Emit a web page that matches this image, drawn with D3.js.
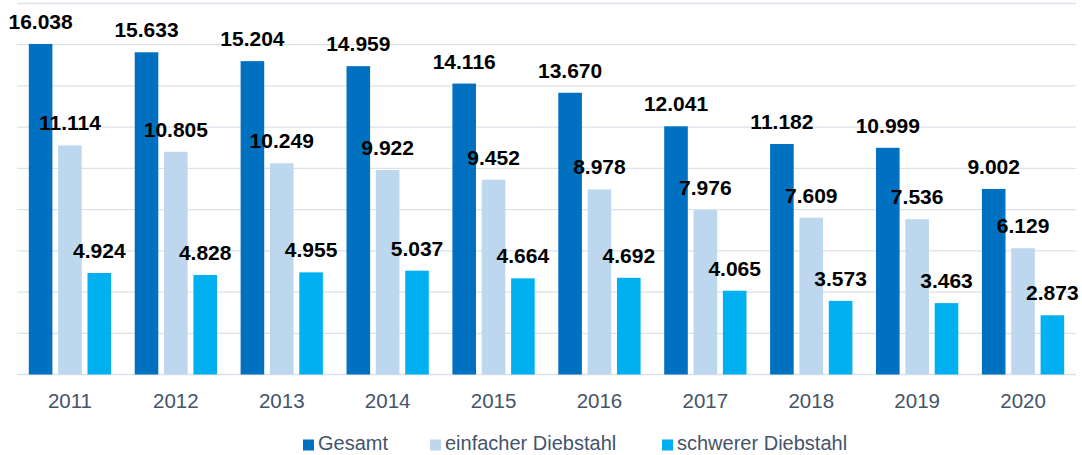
<!DOCTYPE html>
<html>
<head>
<meta charset="utf-8">
<script src="https://cdn.jsdelivr.net/npm/d3@7"></script>
<style>
  body { margin: 0; background: #fff; }
  svg { display: block; font-family: "Liberation Sans", Arial, sans-serif; }
</style>
</head>
<body>
<div id="chart"></div>
<script>
// data (thousands)
var years = ["2011", "2012", "2013", "2014", "2015", "2016", "2017", "2018", "2019", "2020"];
var seriesNames = ["Gesamt", "einfacher Diebstahl", "schwerer Diebstahl"];
var gesamt = [16038, 15633, 15204, 14959, 14116, 13670, 12041, 11182, 10999, 9002];
var einfach = [11114, 10805, 10249, 9922, 9452, 8978, 7976, 7609, 7536, 6129];
var schwer = [4924, 4828, 4955, 5037, 4664, 4692, 4065, 3573, 3463, 2873];
var gridTicks = [0, 2000, 4000, 6000, 8000, 10000, 12000, 14000, 16000, 18000];

var colors = ["#0070C0", "#BDD7EE", "#00B0F0"];
var allSeries = [gesamt, einfach, schwer];

// svg size
var svgWidth = 1082;
var svgHeight = 455;

var margin = { top: 3.5, right: 6, bottom: 80.5, left: 17 };
var chartWidth = svgWidth - margin.left - margin.right;
var chartHeight = svgHeight - margin.top - margin.bottom;

var svg = d3.select("#chart").append("svg")
    .attr("width", svgWidth)
    .attr("height", svgHeight);

var chartGroup = svg.append("g")
    .attr("transform", `translate(${margin.left}, ${margin.top})`);

var de = d3.formatLocale({ decimal: ",", thousands: ".", grouping: [3], currency: ["", " €"] });
var fmt = de.format(",d");

// scales
var yScale = d3.scaleLinear()
    .domain([0, 18000])
    .range([chartHeight, 0]);

var x0 = d3.scaleBand()
    .domain(years)
    .range([0, chartWidth])
    .paddingInner(0.223)
    .paddingOuter(0.1115);

var x1 = d3.scaleBand()
    .domain(d3.range(3))
    .range([0, x0.bandwidth()])
    .paddingInner(0.196);

// gridlines
chartGroup.append("g")
    .selectAll("line")
    .data(gridTicks)
    .enter()
    .append("line")
    .attr("x1", 0)
    .attr("x2", chartWidth)
    .attr("y1", d => yScale(d))
    .attr("y2", d => yScale(d))
    .attr("stroke", "#DDE2EA")
    .attr("stroke-width", 1.3);

// x axis, labels only
var xAxis = d3.axisBottom(x0).tickSize(0).tickPadding(0);
var xg = chartGroup.append("g")
    .attr("transform", `translate(0, ${chartHeight})`)
    .call(xAxis);
xg.select(".domain").remove();
xg.selectAll("text")
    .attr("dy", null)
    .attr("y", 33)
    .attr("fill", "#44546A")
    .attr("font-size", "20.5px")
    .attr("font-family", "Liberation Sans, Arial, sans-serif");

// bars
var groups = chartGroup.selectAll(".year")
    .data(years)
    .enter()
    .append("g")
    .attr("class", "year")
    .attr("transform", d => `translate(${x0(d)}, 0)`);

groups.selectAll("rect")
    .data((d, i) => allSeries.map((s, k) => ({ k: k, v: s[i] })))
    .enter()
    .append("rect")
    .attr("x", d => x1(d.k))
    .attr("y", d => yScale(d.v))
    .attr("width", x1.bandwidth())
    .attr("height", d => chartHeight - yScale(d.v))
    .attr("fill", d => colors[d.k]);

// value labels
groups.selectAll("text")
    .data((d, i) => allSeries.map((s, k) => ({ k: k, v: s[i] })))
    .enter()
    .append("text")
    .attr("x", d => x1(d.k) + x1.bandwidth() / 2)
    .attr("y", d => yScale(d.v) - 15)
    .attr("text-anchor", "middle")
    .attr("font-size", "21px")
    .attr("font-weight", "bold")
    .attr("fill", "#000")
    .text(d => fmt(d.v));

// legend
var legendX = [303, 430, 662];
var legend = svg.append("g");
var items = legend.selectAll("g")
    .data(seriesNames)
    .enter()
    .append("g")
    .attr("transform", (d, i) => `translate(${legendX[i]}, 0)`);
items.append("rect")
    .attr("x", 0)
    .attr("y", 439.5)
    .attr("width", 11)
    .attr("height", 11)
    .attr("fill", (d, i) => colors[i]);
items.append("text")
    .attr("x", 15)
    .attr("y", 450)
    .attr("font-size", "20px")
    .attr("fill", "#44546A")
    .text(d => d);
</script>
</body>
</html>
